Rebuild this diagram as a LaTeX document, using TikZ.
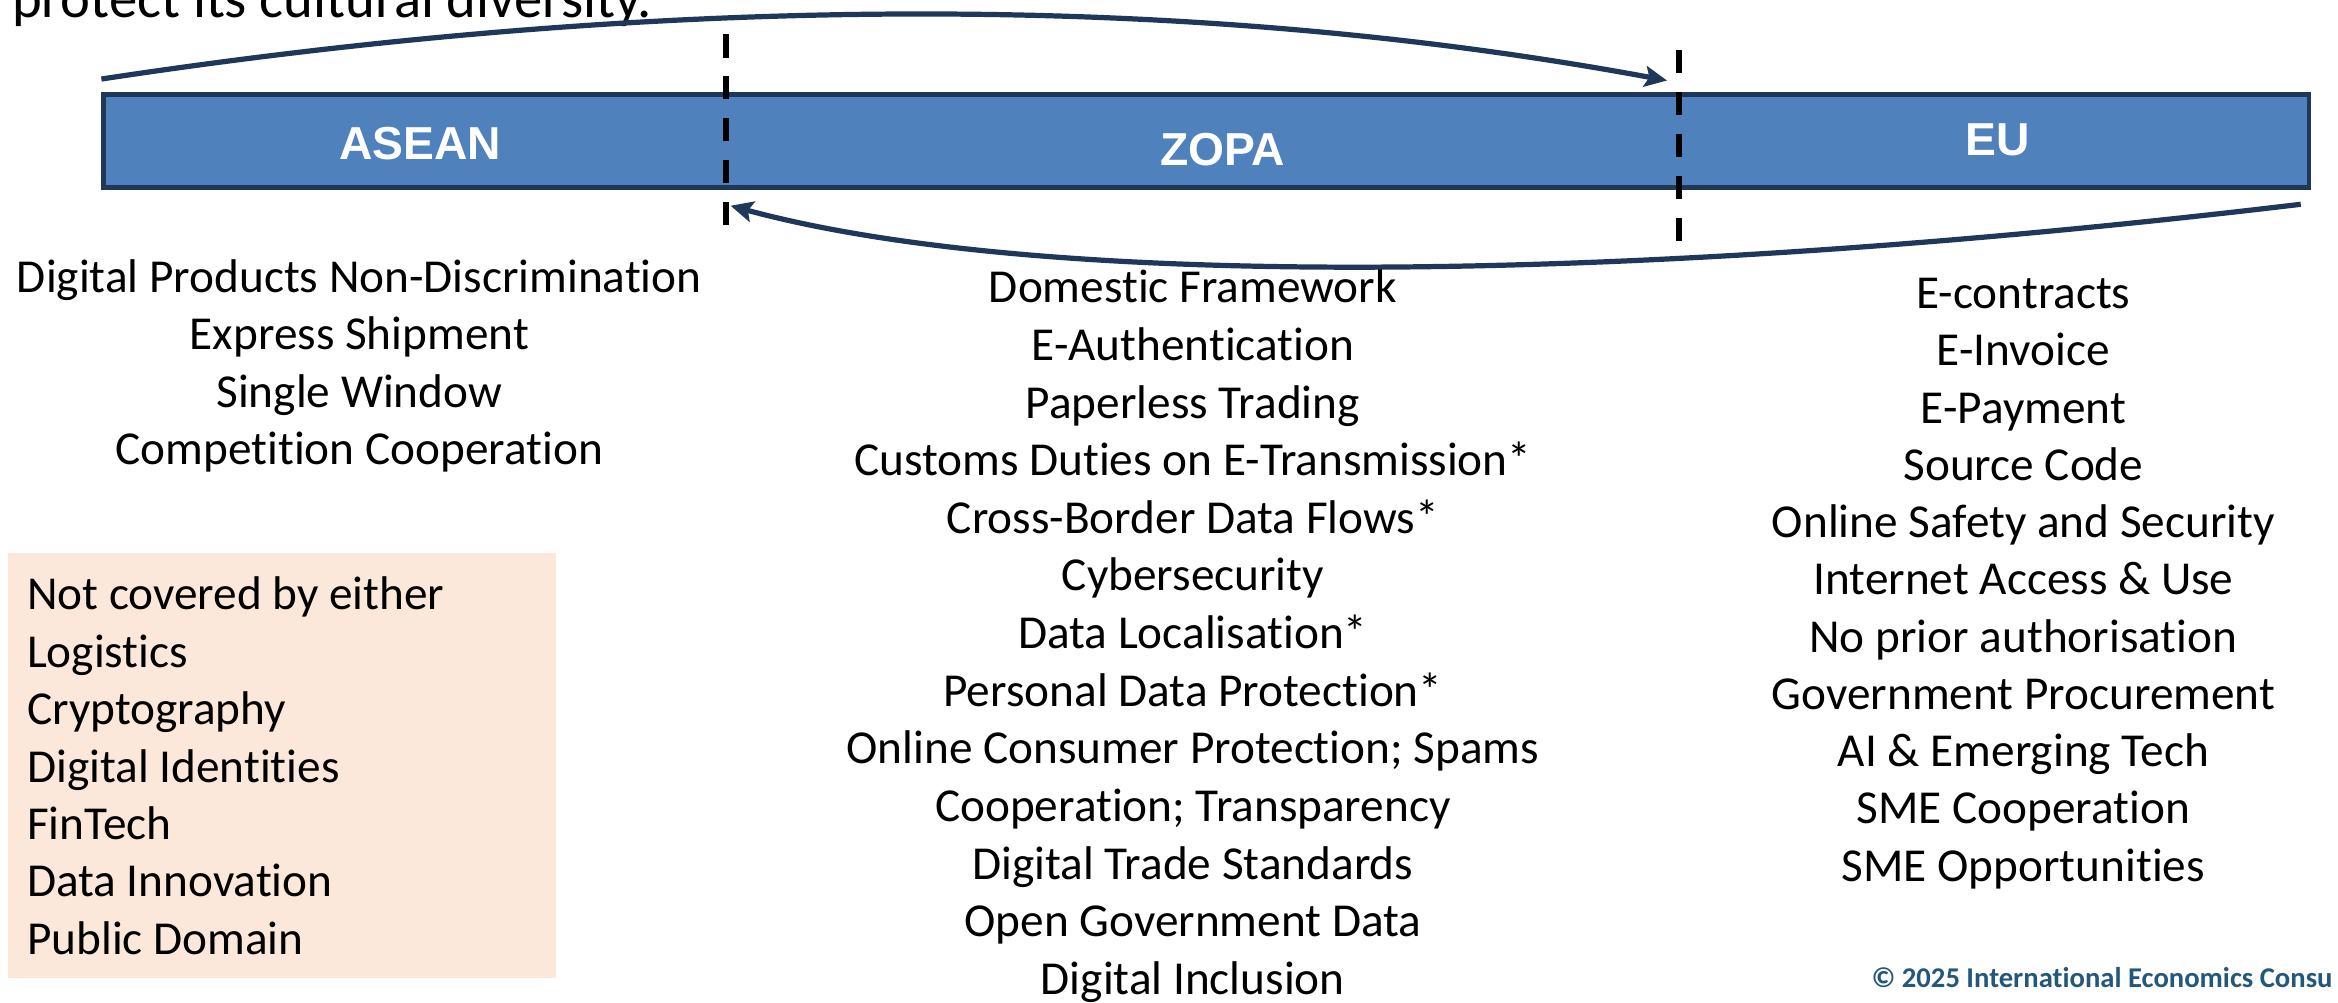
\documentclass[tikz,border=0pt]{standalone}
\usepackage{fontspec}
\setmainfont[Ligatures=NoCommon]{Carlito}
\newfontfamily\arialfont{Liberation Sans}
\usetikzlibrary{arrows.meta}
\definecolor{barblue}{RGB}{79,129,189}
\definecolor{navy}{RGB}{31,56,90}
\definecolor{peach}{RGB}{252,232,218}
\definecolor{copyc}{RGB}{35,88,124}
\begin{document}
\begin{tikzpicture}[x=1pt,y=-1pt,
  item/.style={anchor=base, inner sep=0pt, font=\fontsize{31.7}{38.6}\selectfont},
  boxitem/.style={anchor=base west, inner sep=0pt, font=\fontsize{31.7}{38.6}\selectfont},
  barlabel/.style={text=white, inner sep=0pt, font=\arialfont\bfseries\fontsize{31}{36}\selectfont},
  divider/.style={line width=4pt, dash pattern=on 15.6pt off 12.5pt, black},
  arr/.style={line width=3.5pt, draw=navy, -{Stealth[length=15pt,width=14pt,inset=3pt]}}]
\useasboundingbox (0,0) rectangle (1568,672);
\fill[white] (0,0) rectangle (1568,672);

% title (cut at top)
\node[anchor=base west, inner sep=0pt, font=\fontsize{38}{44}\selectfont] (title) at (8,12) {protect its cultural diversity.};

% bar
\node[draw=navy, line width=3.2pt, fill=barblue, minimum width=1479pt, minimum height=62pt,
      anchor=north west, inner sep=0pt] (bar) at (68,62) {};
\node[barlabel] (asean) at (282,96) {ASEAN};
\node[barlabel] (zopa) at (820,100) {ZOPA};
\node[barlabel] (eu) at (1340,94) {EU};

% dividers
\coordinate (d1t) at (487,23);
\coordinate (d1b) at (487,152);
\coordinate (d2t) at (1126,33.5);
\coordinate (d2b) at (1126,162);
\draw[divider] (d1t) -- (d1b);
\draw[divider] (d2t) -- (d2b);

% arrows
\coordinate (a1s) at (68,53);
\coordinate (a1e) at (1118,54);
\draw[arr] (a1s) .. controls (450,-5) and (800,-5) .. (a1e);
\coordinate (a2s) at (1543,137);
\coordinate (a2e) at (490,138);
\draw[arr] (a2s) .. controls (1100,190) and (700,195) .. (a2e);

% ASEAN list
\foreach \t [count=\i from 0] in {Digital Products Non-Discrimination, Express Shipment, Single Window, Competition Cooperation}
  \node[item] (as\i) at (241,196+38.5*\i) {\t};

% ZOPA list
\foreach \t [count=\i from 0] in {Domestic Framework, E-Authentication, Paperless Trading,
   Customs Duties on E-Transmission*, Cross-Border Data Flows*, Cybersecurity,
   Data Localisation*, Personal Data Protection*, {Online Consumer Protection; Spams},
   {Cooperation; Transparency}, Digital Trade Standards, Open Government Data, Digital Inclusion}
  \node[item] (zo\i) at (800,203+38.67*\i) {\t};

% EU list
\foreach \t [count=\i from 0] in {E-contracts, E-Invoice, E-Payment, Source Code,
   Online Safety and Security, Internet Access \& Use, No prior authorisation,
   Government Procurement, AI \& Emerging Tech, SME Cooperation, SME Opportunities}
  \node[item] (eu\i) at (1357,207+38.4*\i) {\t};

% not covered box
\node[fill=peach, minimum width=368pt, minimum height=285pt, anchor=north west, inner sep=0pt] (box) at (5,371) {};
\foreach \t [count=\i from 0] in {Not covered by either, Logistics, Cryptography, Digital Identities,
   FinTech, Data Innovation, Public Domain}
  \node[boxitem] (nc\i) at (18,409+38.5*\i) {\t};

% copyright
\node[anchor=base west, inner sep=0pt, text=copyc, font=\bfseries\fontsize{19.2}{21}\selectfont] (copy) at (1255,662) {© 2025 International Economics Consu};
\end{tikzpicture}
\end{document}
